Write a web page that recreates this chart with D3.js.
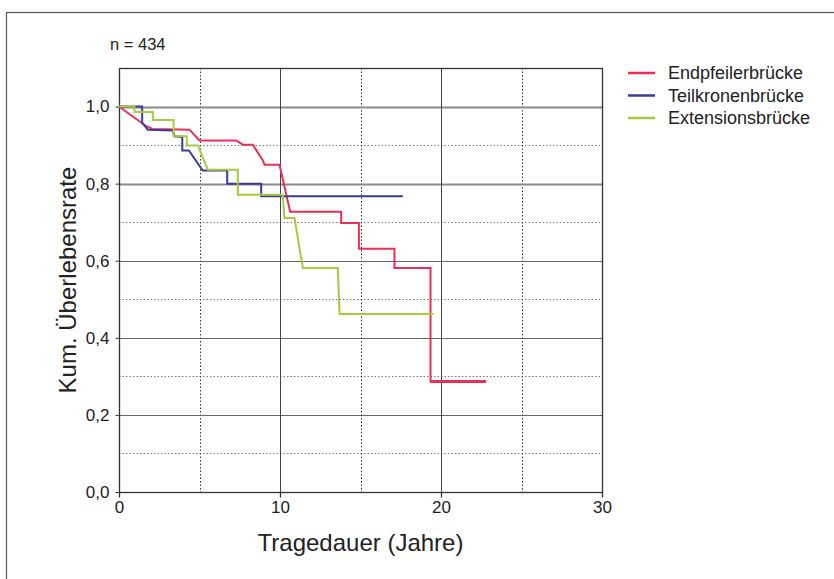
<!DOCTYPE html>
<html>
<head>
<meta charset="utf-8">
<script src="https://cdn.jsdelivr.net/npm/d3@7"></script>
<style>
  body { margin: 0; background: #fff; }
  svg { font-family: "Liberation Sans", Arial, sans-serif; }
</style>
</head>
<body>
<svg id="chart" width="834" height="579"></svg>
<script>
// survival curves, [years, cumulative survival]
const endpfeiler = [
  [0, 1.0], [1.69, 0.949], [2.08, 0.942], [4.38, 0.94], [5.0, 0.912],
  [7.28, 0.912], [7.69, 0.901], [8.31, 0.901], [8.91, 0.862], [9.04, 0.849],
  [9.97, 0.849], [10.63, 0.727], [13.8, 0.727], [13.8, 0.698], [14.9, 0.698],
  [14.9, 0.631], [17.11, 0.631], [17.11, 0.581], [19.35, 0.581], [19.35, 0.287],
  [22.8, 0.287],
];
const teilkronen = [
  [0, 1.0], [1.44, 1.0], [1.44, 0.958], [1.79, 0.94], [3.34, 0.938],
  [3.45, 0.923], [3.93, 0.921], [3.93, 0.886], [4.34, 0.886], [5.2, 0.834],
  [6.72, 0.834], [6.72, 0.8], [8.83, 0.8], [8.83, 0.767], [17.63, 0.767],
];
const extension = [
  [0, 1.0], [0.96, 1.0], [0.96, 0.986], [2.1, 0.986], [2.1, 0.965],
  [3.39, 0.965], [3.39, 0.923], [4.21, 0.923], [4.21, 0.899], [4.9, 0.899],
  [5.52, 0.836], [7.38, 0.836], [7.38, 0.771], [10.17, 0.771], [10.28, 0.711],
  [10.9, 0.711], [11.42, 0.581], [13.59, 0.581], [13.7, 0.462], [19.53, 0.462],
];

const seriesNames = ['Endpfeilerbrücke', 'Teilkronenbrücke', 'Extensionsbrücke'];
const seriesColors = ['#ee2d52', '#3b3b9c', '#a3cb3c'];
const xTicks = [0, 10, 20, 30];
const yTicks = [0, 0.2, 0.4, 0.6, 0.8, 1.0];

const margin = { left: 119, right: 602, top: 68, bottom: 492 };

const svg = d3.select('#chart');

const x = d3.scaleLinear().domain([0, 30]).range([margin.left, margin.right]);
const y = d3.scaleLinear().domain([0, 1.1]).range([margin.bottom, margin.top]);

// outer frame, runs off the right and bottom edges
svg.append('rect')
  .attr('x', 6.5)
  .attr('y', 12.5)
  .attr('width', 900)
  .attr('height', 700)
  .attr('fill', 'none')
  .attr('stroke', '#555')
  .attr('stroke-width', 1.2);

// dotted grid at the half steps
const grid = svg.append('g').attr('class', 'grid');
grid.selectAll('.hDot')
  .data([0.1, 0.3, 0.5, 0.7, 0.9])
  .join('line')
    .attr('x1', margin.left)
    .attr('x2', margin.right)
    .attr('y1', (d) => Math.round(y(d)) + 0.5)
    .attr('y2', (d) => Math.round(y(d)) + 0.5)
    .attr('stroke', '#777')
    .attr('stroke-dasharray', '1.5,2');
grid.selectAll('.vDot')
  .data([5, 15, 25])
  .join('line')
    .attr('y1', margin.top)
    .attr('y2', margin.bottom)
    .attr('x1', (d) => Math.round(x(d)) + 0.5)
    .attr('x2', (d) => Math.round(x(d)) + 0.5)
    .attr('stroke', '#333')
    .attr('stroke-dasharray', '1.5,2');

// solid grid
grid.append('g')
  .call((g) => g.selectAll('line')
    .data([0.2, 0.4, 0.6, 0.8, 1.0])
    .join('line')
      .attr('x1', margin.left)
      .attr('x2', margin.right)
      .attr('y1', (d) => Math.round(y(d)) + 0.5)
      .attr('y2', (d) => Math.round(y(d)) + 0.5)
      .attr('stroke', (d) => (d >= 0.8 ? '#8a8a8a' : '#666'))
      .attr('stroke-width', (d) => (d >= 0.8 ? 2 : 1)));
grid.append('g')
  .call((g) => g.selectAll('line')
    .data([10, 20])
    .join('line')
      .attr('y1', margin.top)
      .attr('y2', margin.bottom)
      .attr('x1', (d) => Math.round(x(d)) + 0.5)
      .attr('x2', (d) => Math.round(x(d)) + 0.5)
      .attr('stroke', '#444'));

// plot border
svg.append('rect')
  .attr('x', margin.left + 0.5)
  .attr('y', margin.top + 0.5)
  .attr('width', margin.right - margin.left)
  .attr('height', margin.bottom - margin.top)
  .attr('fill', 'none')
  .attr('stroke', '#333')
  .attr('stroke-width', 1.3);

// axes
svg.append('g')
  .attr('transform', `translate(0,${margin.bottom + 0.5})`)
  .call(d3.axisBottom(x).tickValues(xTicks).tickSize(5).tickPadding(3).tickFormat(d3.format('d')))
  .call((g) => g.select('.domain').remove())
  .call((g) => g.selectAll('line').attr('stroke', '#333').attr('stroke-width', 1.3))
  .call((g) => g.selectAll('text')
    .attr('font-size', 17)
    .attr('fill', '#222')
    .attr('font-family', 'Liberation Sans, Arial, sans-serif'));

svg.append('g')
  .attr('transform', `translate(${margin.left + 0.5},0)`)
  .call(d3.axisLeft(y).tickValues(yTicks).tickSize(4).tickPadding(6)
    .tickFormat((d) => d3.format('.1f')(d).replace('.', ',')))
  .call((g) => g.select('.domain').remove())
  .call((g) => g.selectAll('line').attr('stroke', '#333'))
  .call((g) => g.selectAll('text')
    .attr('font-size', 17)
    .attr('fill', '#222')
    .attr('font-family', 'Liberation Sans, Arial, sans-serif'));

// axis titles
svg.append('text')
  .attr('x', (margin.left + margin.right) / 2)
  .attr('y', 551)
  .attr('text-anchor', 'middle')
  .attr('font-size', 24)
  .attr('fill', '#222')
  .text('Tragedauer (Jahre)');

svg.append('text')
  .attr('transform', `translate(76,280) rotate(-90)`)
  .attr('text-anchor', 'middle')
  .attr('font-size', 24)
  .attr('fill', '#222')
  .text('Kum. Überlebensrate');

svg.append('text')
  .attr('x', 110)
  .attr('y', 50)
  .attr('font-size', 16.5)
  .attr('fill', '#222')
  .text('n = 434');

// curves
const line = d3.line()
  .x((d) => x(d[0]))
  .y((d) => y(d[1]));

const curves = [endpfeiler, teilkronen, extension];
svg.append('g')
  .attr('class', 'curves')
  .selectAll('path')
  .data(curves)
  .join('path')
    .attr('d', line)
    .attr('fill', 'none')
    .attr('stroke', (d, i) => seriesColors[i])
    .attr('stroke-width', 2)
    .attr('stroke-linejoin', 'miter');

// last red step is drawn heavier
svg.append('path')
  .attr('d', line(endpfeiler.slice(-2)))
  .attr('stroke', seriesColors[0])
  .attr('stroke-width', 3)
  .attr('fill', 'none');

// legend
const legend = svg.append('g')
  .attr('class', 'legend')
  .attr('transform', 'translate(628,73)');
legend.selectAll('g')
  .data(seriesNames)
  .join('g')
    .attr('transform', (d, i) => `translate(0,${i * 22.5})`)
    .call((g) => g.append('line')
      .attr('x1', 0)
      .attr('x2', 27)
      .attr('stroke', (d, i) => seriesColors[i])
      .attr('stroke-width', 2.5))
    .call((g) => g.append('text')
      .attr('x', 40)
      .attr('dy', '0.35em')
      .attr('font-size', 18)
      .attr('fill', '#222')
      .text((d) => d));
</script>
</body>
</html>
